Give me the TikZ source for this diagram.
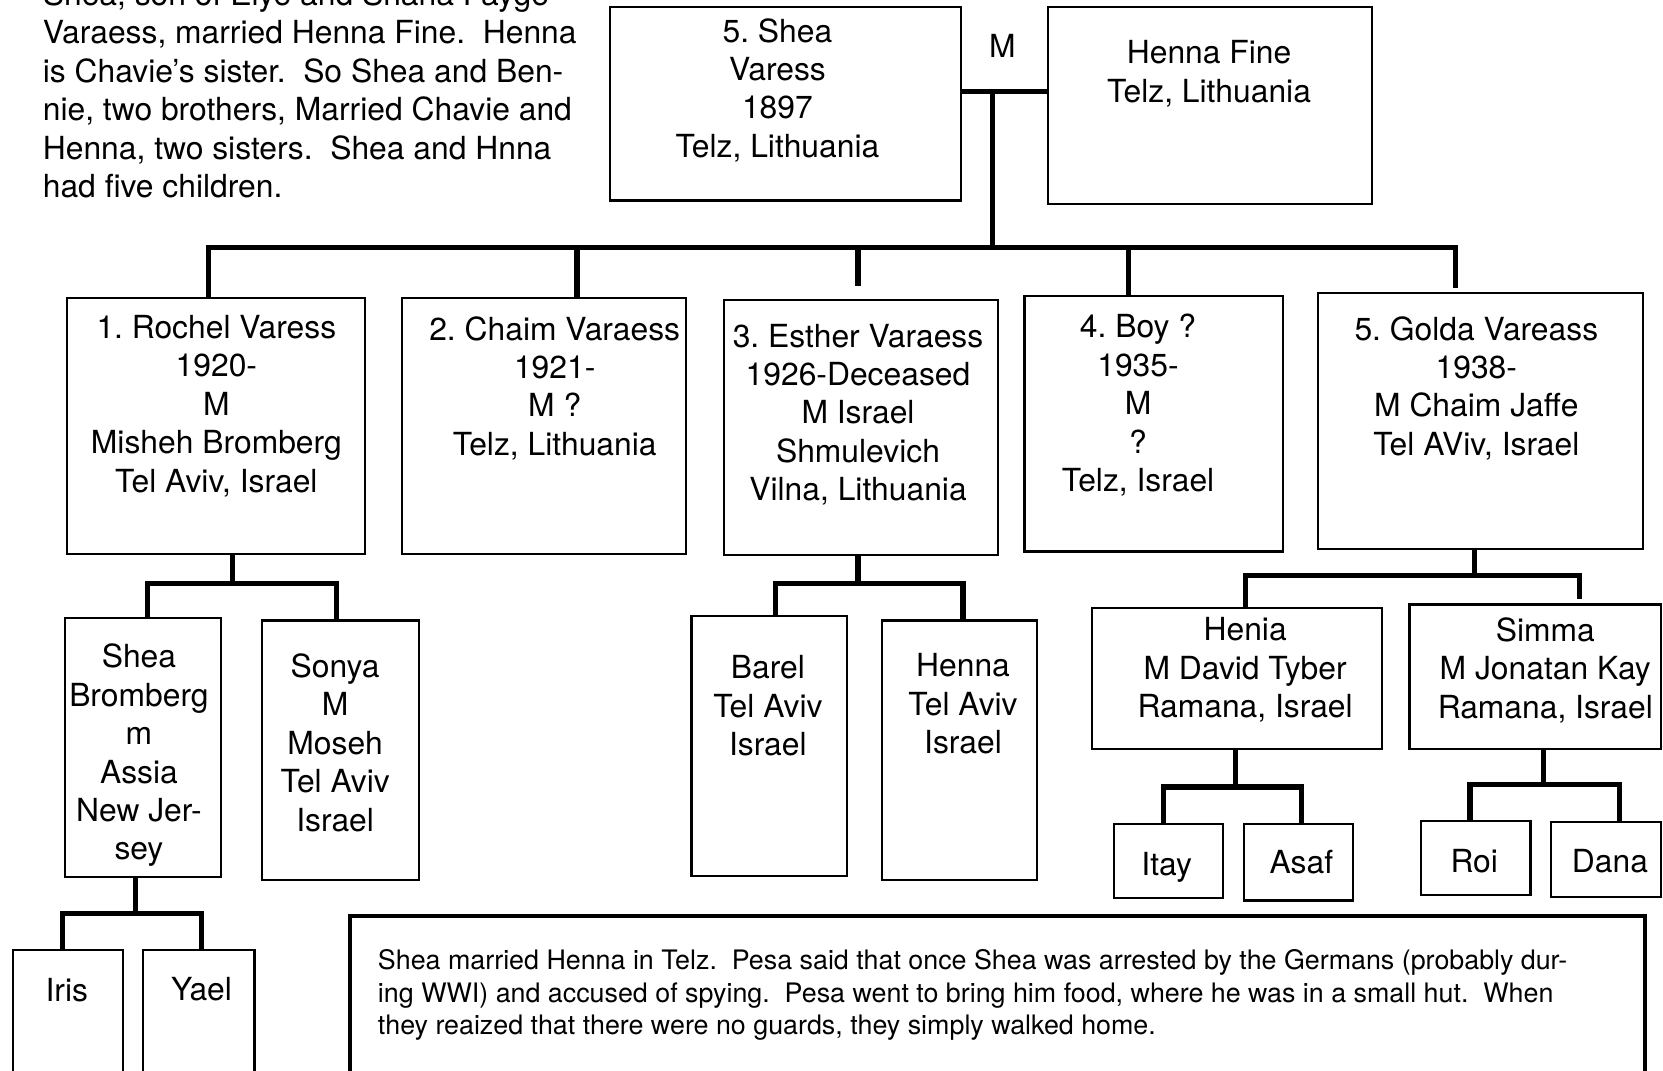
\documentclass[tikz,border=0pt]{standalone}
\usepackage{fontspec}
\setmainfont{TeX Gyre Heros}
\frenchspacing
\newcommand\bigfnt{\fontsize{15}{18.1}\selectfont}
\newcommand\notefnt{\fontsize{12.65}{15.25}\selectfont}
\newcommand\pbox[5]{\node[box, minimum width={(#4-#2)*0.5pt}, minimum height={(#5-#3)*0.5pt}, anchor=north west] (#1) at (#2,#3) {};}
\begin{document}
\begin{tikzpicture}[x=0.5pt,y=-0.5pt,
  box/.style={draw, line width=1pt, inner sep=0pt, outer sep=0pt},
  notebox/.style={draw, line width=2pt, inner sep=0pt, outer sep=0pt},
  conn/.style={line width=2.4pt},
  txt/.style={inner sep=0pt, align=center, font=\bigfnt, anchor=north, yshift=-1.75pt, execute at begin node=\strut},
  ltxt/.style={inner sep=0pt, align=left, font=\bigfnt, anchor=north west, yshift=-1.5pt, execute at begin node=\strut},
  ntxt/.style={inner sep=0pt, align=left, font=\notefnt, anchor=north west, yshift=-1.75pt, execute at begin node=\strut}]
\useasboundingbox (0,0) rectangle (1568,1009);
\clip (0,0) rectangle (1568,1009);
\fill[white] (0,0) rectangle (1568,1009);

% intro text
\node[ltxt] (intro) at (40,-20.6) {Shea, son of Elye and Shana Fayge\\Varaess, married Henna Fine.\ \ Henna\\is Chavie’s sister.\ \ So Shea and Ben-\\nie, two brothers, Married Chavie and\\Henna, two sisters.\ \ Shea and Hnna\\had five children.};

% boxes
\pbox{shea}{575}{7}{906}{189}
\pbox{henna}{988}{7}{1294}{192}
\pbox{rochel}{63}{281}{344}{522}
\pbox{chaim}{379}{281}{647}{522}
\pbox{esther}{683}{283}{941}{523}
\pbox{boy}{966}{279}{1210}{520}
\pbox{golda}{1243}{276}{1549}{518}
\pbox{sheab}{61}{583}{208}{827}
\pbox{sonya}{247}{585}{395}{830}
\pbox{barel}{652}{581}{799}{826}
\pbox{hennab}{832}{585}{978}{830}
\pbox{henia}{1030}{573}{1303}{706}
\pbox{simma}{1329}{570}{1566}{706}
\pbox{itay}{1050}{777}{1153}{847}
\pbox{asaf}{1173}{777}{1276}{849}
\pbox{roi}{1340}{774}{1443}{844}
\pbox{dana}{1462}{775}{1566}{846}
\pbox{iris}{12}{896}{116}{1040}
\pbox{yael}{135}{896}{240}{1040}
\node[notebox, minimum width={(1551-330)*0.5pt}, minimum height={(1040-864)*0.5pt}, anchor=north west] (note) at (330,864) {};

% texts
\node[txt] (mlabel) at (945,25.4) {M};
\node[txt] (sheaT) at (733,13.4) {5. Shea\\Varess\\1897\\Telz, Lithuania};
\node[txt] (hennaT) at (1140,34.4) {Henna Fine\\Telz, Lithuania};
\node[txt] (rochelT) at (204,293.4) {1. Rochel Varess\\1920-\\M\\Misheh Bromberg\\Tel Aviv, Israel};
\node[txt] (chaimT) at (523,294.4) {2. Chaim Varaess\\1921-\\M ?\\Telz, Lithuania};
\node[txt] (estherT) at (809,301.4) {3. Esther Varaess\\1926-Deceased\\M Israel\\Shmulevich\\Vilna, Lithuania};
\node[txt] (boyT) at (1073,292.4) {4. Boy ?\\1935-\\M\\?\\Telz, Israel};
\node[txt] (goldaT) at (1392,294.4) {5. Golda Vareass\\1938-\\M Chaim Jaffe\\Tel AViv, Israel};
\node[txt] (sheabT) at (131,603.4) {Shea\\Bromberg\\m\\Assia\\New Jer-\\sey};
\node[txt] (sonyaT) at (316,612.4) {Sonya\\M\\Moseh\\Tel Aviv\\Israel};
\node[txt] (barelT) at (724,614.4) {Barel\\Tel Aviv\\Israel};
\node[txt] (hennabT) at (908,612.4) {Henna\\Tel Aviv\\Israel};
\node[txt] (heniaT) at (1174,578.4) {Henia\\M David Tyber\\Ramana, Israel};
\node[txt] (simmaT) at (1457,578.4) {Simma\\M Jonatan Kay\\Ramana, Israel};
\node[txt] (itayT) at (1100,796.4) {Itay};
\node[txt] (asafT) at (1227,794.4) {Asaf};
\node[txt] (roiT) at (1390,793.4) {Roi};
\node[txt] (danaT) at (1518,793.4) {Dana};
\node[txt] (irisT) at (63,915.4) {Iris};
\node[txt] (yaelT) at (190,914.4) {Yael};
\node[ntxt] (noteT) at (356,891.6) {Shea married Henna in Telz.\ \ Pesa said that once Shea was arrested by the Germans (probably dur-\\ing WWI) and accused of spying.\ \ Pesa went to bring him food, where he was in a small hut.\ \ When\\they reaized that there were no guards, they simply walked home.};

% marriage and top bar
\coordinate (mj) at (936,86);
\coordinate (bj) at (936,233);
\draw[conn] (shea.east |- mj) -- (henna.west |- mj);
\draw[conn] (mj) -- (bj);
\coordinate (b1) at (197,233);
\coordinate (b2) at (544,233);
\coordinate (b3) at (809,233);
\coordinate (b4) at (1064,233);
\coordinate (b5) at (1372,233);
\draw[conn] (b1 |- rochel.north) -- (b1) -- (b5) -- ++(0,39);
\draw[conn] (b2) -- (b2 |- chaim.north);
\draw[conn] (b3) -- ++(0,37);
\draw[conn] (b4) -- (b4 |- boy.north);

% Rochel's children
\coordinate (rp) at (219,550);
\coordinate (rl) at (139,550);
\coordinate (rr) at (317,550);
\draw[conn] (rp |- rochel.south) -- (rp);
\draw[conn] (sheab.north -| rl) -- (rl) -- (rr) -- (sonya.north -| rr);

% Esther's children
\coordinate (ep) at (809,550);
\coordinate (el) at (731,550);
\coordinate (er) at (908,550);
\draw[conn] (ep |- esther.south) -- (ep);
\draw[conn] (barel.north -| el) -- (el) -- (er) -- (hennab.north -| er);

% Golda's children
\coordinate (gp) at (1390,543);
\coordinate (gl) at (1174,543);
\coordinate (gr) at (1489,543);
\draw[conn] (gp |- golda.south) -- (gp);
\draw[conn] (henia.north -| gl) -- (gl) -- (gr) -- ++(0,22);

% Henia's children
\coordinate (hp) at (1165,742);
\coordinate (hl) at (1097,742);
\coordinate (hr) at (1227,742);
\draw[conn] (hp |- henia.south) -- (hp);
\draw[conn] (itay.north -| hl) -- (hl) -- (hr) -- (asaf.north -| hr);

% Simma's children
\coordinate (sp) at (1455,740);
\coordinate (sl) at (1386,740);
\coordinate (sr) at (1527,740);
\draw[conn] (sp |- simma.south) -- (sp);
\draw[conn] (roi.north -| sl) -- (sl) -- (sr) -- (dana.north -| sr);

% Shea Bromberg's children
\coordinate (kp) at (128,861);
\coordinate (kl) at (59,861);
\coordinate (kr) at (190,861);
\draw[conn] (kp |- sheab.south) -- (kp);
\draw[conn] (iris.north -| kl) -- (kl) -- (kr) -- (yael.north -| kr);
\end{tikzpicture}
\end{document}
